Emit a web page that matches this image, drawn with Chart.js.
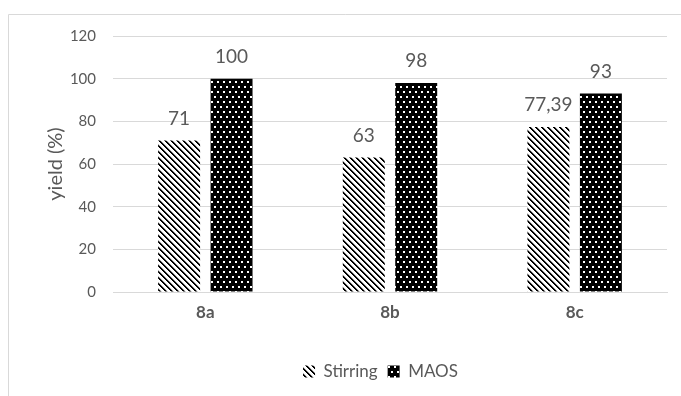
<!DOCTYPE html>
<html>
<head>
<meta charset="utf-8">
<script src="https://cdn.jsdelivr.net/npm/chart.js@4/dist/chart.umd.min.js"></script>
<style>
  html, body { margin: 0; padding: 0; background: #fff; }
  #wrap { width: 681px; height: 396px; position: relative; }
</style>
</head>
<body>
<div id="wrap"><canvas id="c" width="681" height="396"></canvas></div>
<script>
// Reaction yields per compound, conventional stirring vs. microwave-assisted
const categories = ['8a', '8b', '8c'];
const stirringYield = [71, 63, 77.39];
const maosYield = [100, 98, 93];
const seriesNames = ['Stirring', 'MAOS'];
const yTicks = [0, 20, 40, 60, 80, 100, 120];
const yAxisTitle = 'yield (%)';

const TEXT = '#595959';
const FONT = "Lato, 'Open Sans', sans-serif";

// Downward diagonal hatch: black strokes on white
function hatchPattern() {
  const t = document.createElement('canvas');
  t.width = 6; t.height = 6;
  const g = t.getContext('2d');
  g.fillStyle = '#fff';
  g.fillRect(0, 0, 6, 6);
  g.fillStyle = '#000';
  for (let y = 0; y < 6; y++) {
    g.fillRect(y % 6, y, 1, 1);
    g.fillRect((y + 1) % 6, y, 1, 1);
  }
  g.fillStyle = 'rgba(0,0,0,0.3)';
  for (let y = 0; y < 6; y++) g.fillRect((y + 2) % 6, y, 1, 1);
  return g.createPattern(t, 'repeat');
}

// Small white dots on black, staggered rows
function dotPattern() {
  const t = document.createElement('canvas');
  t.width = 6; t.height = 10;
  const g = t.getContext('2d');
  g.fillStyle = '#000';
  g.fillRect(0, 0, 6, 10);
  g.fillStyle = '#fff';
  g.fillRect(1, 1, 2, 2);
  g.fillRect(4, 6, 2, 2);
  return g.createPattern(t, 'repeat');
}

const hatch = hatchPattern();
const dots = dotPattern();

const fmt = v => String(v).replace('.', ',');

// Frame line, y-axis title, value labels above bars, legend offset
const decor = {
  id: 'decor',
  afterLayout(chart) {
    const lg = chart.legend;
    if (lg) { lg.left += 32; lg.right += 32; }
  },
  beforeDraw(chart) {
    const ctx = chart.ctx;
    const area = chart.chartArea;
    ctx.save();
    ctx.strokeStyle = '#d9d9d9';
    ctx.lineWidth = 1;
    ctx.beginPath();
    ctx.moveTo(8.5, 400);
    ctx.lineTo(8.5, 14.5);
    ctx.lineTo(690, 14.5);
    ctx.stroke();
    ctx.translate(56, (area.top + area.bottom) / 2);
    ctx.rotate(-Math.PI / 2);
    ctx.fillStyle = TEXT;
    ctx.font = "20px " + FONT;
    ctx.textAlign = 'center';
    ctx.textBaseline = 'middle';
    ctx.fillText(yAxisTitle, 0, 0);
    ctx.restore();
  },
  afterDatasetsDraw(chart) {
    const ctx = chart.ctx;
    ctx.save();
    ctx.fillStyle = TEXT;
    ctx.font = "19px " + FONT;
    ctx.textAlign = 'center';
    ctx.textBaseline = 'middle';
    chart.data.datasets.forEach((ds, i) => {
      chart.getDatasetMeta(i).data.forEach((bar, j) => {
        ctx.fillText(fmt(ds.data[j]), bar.x, bar.y - 22);
      });
    });
    ctx.restore();
  }
};

new Chart(document.getElementById('c'), {
  type: 'bar',
  data: {
    labels: categories,
    datasets: [
      { label: seriesNames[0], data: stirringYield, backgroundColor: hatch, borderWidth: 0 },
      { label: seriesNames[1], data: maosYield, backgroundColor: dots, borderWidth: 0 }
    ]
  },
  options: {
    responsive: false,
    animation: false,
    devicePixelRatio: 1,
    categoryPercentage: 0.568,
    barPercentage: 0.8,
    layout: { padding: { left: 30, right: 14, top: 36, bottom: 6 } },
    plugins: {
      tooltip: { enabled: false },
      legend: {
        position: 'bottom',
        labels: {
          color: TEXT,
          font: { family: FONT, size: 17 },
          boxWidth: 12,
          boxHeight: 12,
          padding: 10
        }
      }
    },
    scales: {
      x: {
        grid: { display: false },
        border: { display: true, color: '#d9d9d9' },
        ticks: { color: TEXT, font: { family: FONT, size: 17, weight: 'bold' }, padding: 2 },
        afterFit(s) { s.height = 61; }
      },
      y: {
        min: 0,
        max: 120,
        afterBuildTicks(s) { s.ticks = yTicks.map(v => ({ value: v })); },
        grid: { color: '#d9d9d9', drawTicks: false },
        border: { display: false },
        ticks: { color: TEXT, font: { family: FONT, size: 15 }, padding: 17 },
        afterFit(s) { s.width = 83; }
      }
    }
  },
  plugins: [decor]
});
</script>
</body>
</html>
